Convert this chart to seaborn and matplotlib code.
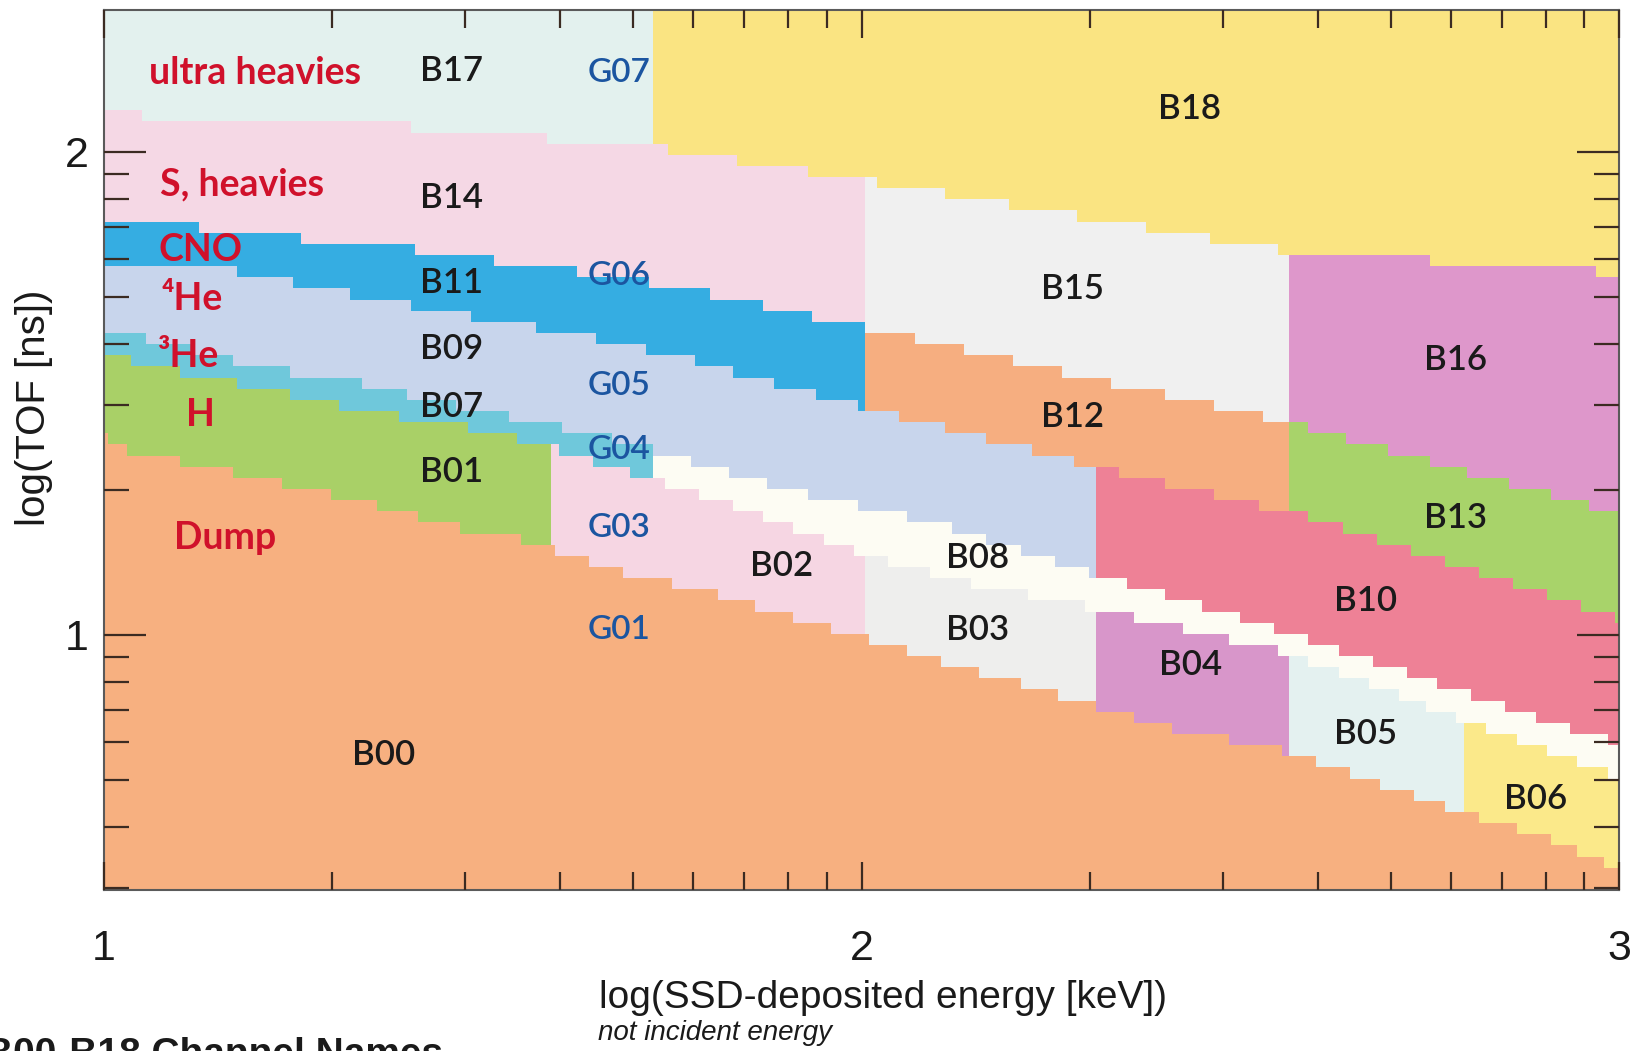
import numpy as np
import matplotlib
matplotlib.use("Agg")
import matplotlib.pyplot as plt
from matplotlib.colors import ListedColormap
from matplotlib.ticker import NullFormatter
import seaborn as sns

sns.set_theme(style="ticks")
plt.rcParams["font.family"] = ["Liberation Sans", "DejaVu Sans"]

# band edges, in (log E, log TOF), top edge first
c1_x = [1.000, 1.386, 1.725, 2.006, 2.563, 3.000]
c1_y = [2.078, 2.054, 2.011, 1.940, 1.795, 1.749]
c2_x = [1.000, 1.249, 1.395, 1.638, 1.773, 2.008, 2.556, 3.000]
c2_y = [1.866, 1.823, 1.801, 1.749, 1.715, 1.635, 1.443, 1.251]
c3_x = [1.000, 1.147, 1.244, 1.456, 1.638, 1.773, 2.008, 2.310, 2.601, 3.000]
c3_y = [1.771, 1.762, 1.730, 1.667, 1.618, 1.570, 1.469, 1.348, 1.240, 1.035]
c4_x = [1.000, 1.083, 1.193, 1.335, 1.486, 1.638, 1.725, 1.893, 2.112, 2.306,
        2.512, 2.733, 2.952, 3.000]
c4_y = [1.629, 1.605, 1.557, 1.523, 1.467, 1.419, 1.382, 1.305, 1.225, 1.127,
        1.032, 0.914, 0.797, 0.778]
c5_x = [1.000, 1.083, 1.193, 1.335, 1.511, 1.594, 1.718, 1.893, 2.011, 2.156,
        2.310, 2.561, 2.793, 3.000]
c5_y = [1.581, 1.549, 1.516, 1.467, 1.421, 1.385, 1.326, 1.233, 1.162, 1.102,
        1.056, 0.963, 0.825, 0.706]
c6_x = [1.000, 1.025, 1.152, 1.247, 1.329, 1.399, 1.453, 1.511, 1.552, 1.592,
        1.689, 1.806, 1.905, 2.011, 2.112, 2.420, 2.552, 2.645, 2.733, 2.793,
        2.820, 2.886, 2.952, 3.000]
c6_y = [1.410, 1.384, 1.343, 1.309, 1.281, 1.253, 1.225, 1.212, 1.197, 1.177,
        1.127, 1.086, 1.039, 0.991, 0.942, 0.803, 0.762, 0.715, 0.665, 0.633,
        0.618, 0.590, 0.549, 0.516]

# where each band is split into channels along log(E)
band_cuts = [[1.725], [2.006, 2.563], [2.006, 2.563], [2.310], [1.725],
             [1.592, 2.006, 2.310, 2.563, 2.797], []]
band_names = [["B17", "B18"], ["B14", "B15", "B16"], ["B11", "B12", "B13"],
              ["B09", "B10"], ["B07", "B08"],
              ["B01", "B02", "B03", "B04", "B05", "B06"], ["B00"]]
channel_colors = {
    "B17": "#e3f1ee", "B18": "#fae482",
    "B14": "#f5d8e5", "B15": "#f0f0f0", "B16": "#de97cb",
    "B11": "#35ade2", "B12": "#f6ae80", "B13": "#a8d36a",
    "B09": "#c8d5ec", "B10": "#ee8196",
    "B07": "#6fc8db", "B08": "#fdfcf3",
    "B01": "#a9d067", "B02": "#f6d6e3", "B03": "#eeeeed", "B04": "#d896ca",
    "B05": "#e4f1f0", "B06": "#fbe98a",
    "B00": "#f7b080",
}

# labels
species = ["ultra heavies", "S, heavies", "CNO", "\u2074He", "\u00b3He", "H", "Dump"]
species_x = [1.200, 1.182, 1.127, 1.117, 1.110, 1.127, 1.160]
species_y = [2.164, 1.933, 1.797, 1.695, 1.577, 1.456, 1.201]

b_labels = ["B17", "B14", "B11", "B09", "B07", "B01", "B00", "B18", "B15", "B16",
            "B12", "B13", "B02", "B08", "B03", "B10", "B04", "B05", "B06"]
b_x = [1.459, 1.459, 1.459, 1.459, 1.459, 1.459, 1.369, 2.433, 2.278, 2.784,
       2.278, 2.784, 1.894, 2.153, 2.153, 2.665, 2.434, 2.665, 2.890]
b_y = [2.168, 1.905, 1.728, 1.592, 1.473, 1.337, 0.752, 2.089, 1.717, 1.570,
       1.451, 1.242, 1.143, 1.160, 1.011, 1.071, 0.937, 0.795, 0.661]

g_labels = ["G07", "G06", "G05", "G04", "G03", "G01"]
g_x = [1.680, 1.680, 1.680, 1.680, 1.680, 1.680]
g_y = [2.164, 1.743, 1.516, 1.382, 1.222, 1.011]

x_lim = (1.0, 3.0)
y_lim = (0.472, 2.294)

# lookup grid, coarse like the original channel table
x_edges = np.linspace(x_lim[0], x_lim[1], 401)
y_edges = np.linspace(y_lim[0], y_lim[1], 80)
xc = (x_edges[:-1] + x_edges[1:]) / 2
yc = (y_edges[:-1] + y_edges[1:]) / 2

edges = [(c1_x, c1_y), (c2_x, c2_y), (c3_x, c3_y),
         (c4_x, c4_y), (c5_x, c5_y), (c6_x, c6_y)]
curves = np.array([np.interp(xc, bx, by) for bx, by in edges])
band = (curves[:, None, :] > yc[None, :, None]).sum(axis=0)

names_flat = [n for names in band_names for n in names]
offsets = np.cumsum([0] + [len(n) for n in band_names])
grid = np.zeros(band.shape, dtype=int)
for b, cuts in enumerate(band_cuts):
    col = np.searchsorted(cuts, xc)
    grid = np.where(band == b, offsets[b] + col[None, :], grid)

cmap = ListedColormap(sns.color_palette([channel_colors[n] for n in names_flat]))

fig = plt.figure(figsize=(16.36, 10.51), dpi=100)
ax = fig.add_axes([0.0636, 0.1532, 0.9260, 0.8373])
ax.pcolormesh(10 ** x_edges, 10 ** y_edges, grid, cmap=cmap,
              vmin=-0.5, vmax=len(names_flat) - 0.5, shading="flat")
ax.set_axisbelow(False)

ax.set_xscale("log")
ax.set_yscale("log")
ax.set_xlim(10 ** x_lim[0], 10 ** x_lim[1])
ax.set_ylim(10 ** y_lim[0], 10 ** y_lim[1])
ax.set_xticks([10, 100, 1000])
ax.set_xticklabels(["1", "2", "3"])
ax.set_yticks([10, 100])
ax.set_yticklabels(["1", "2"])
ax.xaxis.set_minor_formatter(NullFormatter())
ax.yaxis.set_minor_formatter(NullFormatter())

tick_col = "#3b2b22"
ax.tick_params(which="both", direction="in", top=True, right=True,
               color=tick_col, width=1.6, labelsize=31, labelcolor="#1a1a1a")
ax.tick_params(axis="x", which="major", length=20, pad=28)
ax.tick_params(axis="x", which="minor", length=13)
ax.tick_params(axis="y", which="major", length=30, pad=11)
ax.tick_params(axis="y", which="minor", length=18)
for s in ax.spines.values():
    s.set_color("#5a5a5a")
    s.set_linewidth(1.5)

label_font = ["Lato", "DejaVu Sans"]
for t, x, y in zip(species, species_x, species_y):
    ax.text(10 ** x, 10 ** y, t, ha="center", va="center", fontsize=27,
            fontweight="bold", color="#d0112b", family=label_font)
for t, x, y in zip(b_labels, b_x, b_y):
    ax.text(10 ** x, 10 ** y, t, ha="center", va="center", fontsize=25,
            fontweight="semibold", color="#1a1a1a", family=label_font)
for t, x, y in zip(g_labels, g_x, g_y):
    ax.text(10 ** x, 10 ** y, t, ha="center", va="center", fontsize=24,
            fontweight="semibold", color="#1b55a0", family=label_font)

fig.text(0.5397, 0.0504, "log(SSD-deposited energy [keV])", ha="center",
         va="center", fontsize=28, color="#1a1a1a")
fig.text(0.3655, 0.0171, "not incident energy", ha="left", va="center",
         fontsize=20, style="italic", color="#1a1a1a")
fig.text(0.0208, 0.612, "log(TOF [ns])", ha="center", va="center",
         rotation=90, fontsize=29, color="#1a1a1a")
fig.text(-0.009, -0.004, "B00-B18 Channel Names", ha="left", va="center",
         fontsize=28, fontweight="bold", color="#1a1a1a")

fig.savefig("out.png", dpi=100)
